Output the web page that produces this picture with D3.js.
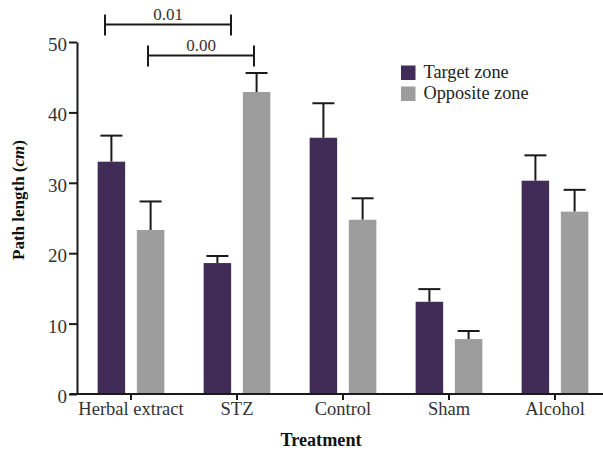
<!DOCTYPE html>
<html>
<head>
<meta charset="utf-8">
<script src="https://cdn.jsdelivr.net/npm/d3@7"></script>
<style>
  body { margin: 0; background: #fff; }
  svg { display: block; }
  text { font-family: "Liberation Serif", "Times New Roman", serif; }
</style>
</head>
<body>
<svg id="chart" width="603" height="454"></svg>
<script>
const categories = ["Herbal extract", "STZ", "Control", "Sham", "Alcohol"];
const seriesNames = ["Target zone", "Opposite zone"];
const targetValues = [33.0, 18.6, 36.4, 13.1, 30.3];
const targetErrors = [3.7, 1.0, 4.9, 1.8, 3.6];
const oppositeValues = [23.3, 42.9, 24.75, 7.8, 25.9];
const oppositeErrors = [4.05, 2.7, 3.05, 1.15, 3.1];
const yTicks = [0, 10, 20, 30, 40, 50];
const brackets = [
  { from: "Herbal extract", to: "STZ", label: "0.01", level: 52.5, dx1: -26, dx2: -6 },
  { from: "Herbal extract", to: "STZ", label: "0.00", level: 48.1, dx1: 17, dx2: 17 }
];

const colors = ["#412b57", "#9c9d9c"];
const svg = d3.select("#chart");

const x = d3.scaleBand().domain(categories).range([78, 608]).paddingInner(0).paddingOuter(0);
const y = d3.scaleLinear().domain([0, 50]).range([394, 42]);

const barW = 27.5;
const offsets = [-19.6, 19.6];
const series = [
  { values: targetValues, errors: targetErrors },
  { values: oppositeValues, errors: oppositeErrors }
];

// bars
series.forEach((s, si) => {
  const data = categories.map((c, i) => ({ c, v: s.values[i], e: s.errors[i] }));
  const g = svg.append("g");
  const cx = d => x(d.c) + x.bandwidth() / 2 + offsets[si];
  g.selectAll("line.err").data(data).enter().append("line")
    .attr("x1", cx).attr("x2", cx)
    .attr("y1", d => y(d.v)).attr("y2", d => y(d.v + d.e))
    .attr("stroke", "#1a1a1a").attr("stroke-width", 2);
  g.selectAll("line.cap").data(data).enter().append("line")
    .attr("x1", d => cx(d) - 11).attr("x2", d => cx(d) + 11)
    .attr("y1", d => y(d.v + d.e)).attr("y2", d => y(d.v + d.e))
    .attr("stroke", "#1a1a1a").attr("stroke-width", 2);
  g.selectAll("rect").data(data).enter().append("rect")
    .attr("x", d => cx(d) - barW / 2)
    .attr("width", barW)
    .attr("y", d => y(d.v))
    .attr("height", d => y(0) - y(d.v))
    .attr("fill", colors[si]);
});

// y axis
const yAxis = svg.append("g").attr("transform", "translate(77,0)")
  .call(d3.axisLeft(y).tickValues(yTicks).tickSize(8).tickSizeOuter(0).tickPadding(2));
yAxis.select(".domain").attr("stroke", "#1a1a1a").attr("stroke-width", 2);
yAxis.selectAll(".tick line").attr("stroke", "#1a1a1a").attr("stroke-width", 2);
yAxis.selectAll(".tick text").attr("font-family", "Liberation Serif").attr("font-size", 19).attr("fill", "#333").attr("dy", "0.45em");

// x axis
const xAxis = svg.append("g").attr("transform", "translate(0,394)")
  .call(d3.axisBottom(x).tickSize(6).tickSizeOuter(0).tickPadding(2));
xAxis.select(".domain").remove();
xAxis.selectAll(".tick line").attr("stroke", "#1a1a1a").attr("stroke-width", 2);
xAxis.selectAll(".tick text").attr("font-family", "Liberation Serif").attr("font-size", 18.5).attr("fill", "#333").attr("dy", "0.71em");
svg.append("line").attr("x1", 70).attr("x2", 603).attr("y1", y(0)).attr("y2", y(0))
  .attr("stroke", "#1a1a1a").attr("stroke-width", 2);

// brackets
brackets.forEach(b => {
  const x1 = x(b.from) + x.bandwidth() / 2 + b.dx1;
  const x2 = x(b.to) + x.bandwidth() / 2 + b.dx2;
  const yy = y(b.level);
  const g = svg.append("g").attr("stroke", "#1a1a1a").attr("stroke-width", 2);
  g.append("line").attr("x1", x1).attr("x2", x2).attr("y1", yy).attr("y2", yy);
  g.append("line").attr("x1", x1).attr("x2", x1).attr("y1", yy - 10).attr("y2", yy + 11);
  g.append("line").attr("x1", x2).attr("x2", x2).attr("y1", yy - 10).attr("y2", yy + 11);
  svg.append("text").attr("x", (x1 + x2) / 2).attr("y", yy - 4.5)
    .attr("text-anchor", "middle").attr("font-size", 17).attr("fill", "#333").text(b.label);
});

// legend
const legend = svg.append("g").attr("transform", "translate(401,65.5)");
seriesNames.forEach((n, i) => {
  legend.append("rect").attr("x", 0).attr("y", i * 21).attr("width", 14.5).attr("height", 14.5).attr("fill", colors[i]);
  legend.append("text").attr("x", 22.5).attr("y", i * 21 + 12.5).attr("font-size", 18.3).attr("fill", "#222").text(n);
});

// axis titles
svg.append("text").attr("x", 321).attr("y", 446).attr("text-anchor", "middle")
  .attr("font-size", 18.2).attr("font-weight", "bold").attr("fill", "#111").text("Treatment");
const yl = svg.append("text").attr("transform", "translate(24,200) rotate(-90)")
  .attr("text-anchor", "middle").attr("font-size", 17).attr("font-weight", "bold").attr("fill", "#111");
yl.append("tspan").text("Path length (");
yl.append("tspan").attr("font-style", "italic").text("cm");
yl.append("tspan").text(")");
</script>
</body>
</html>
